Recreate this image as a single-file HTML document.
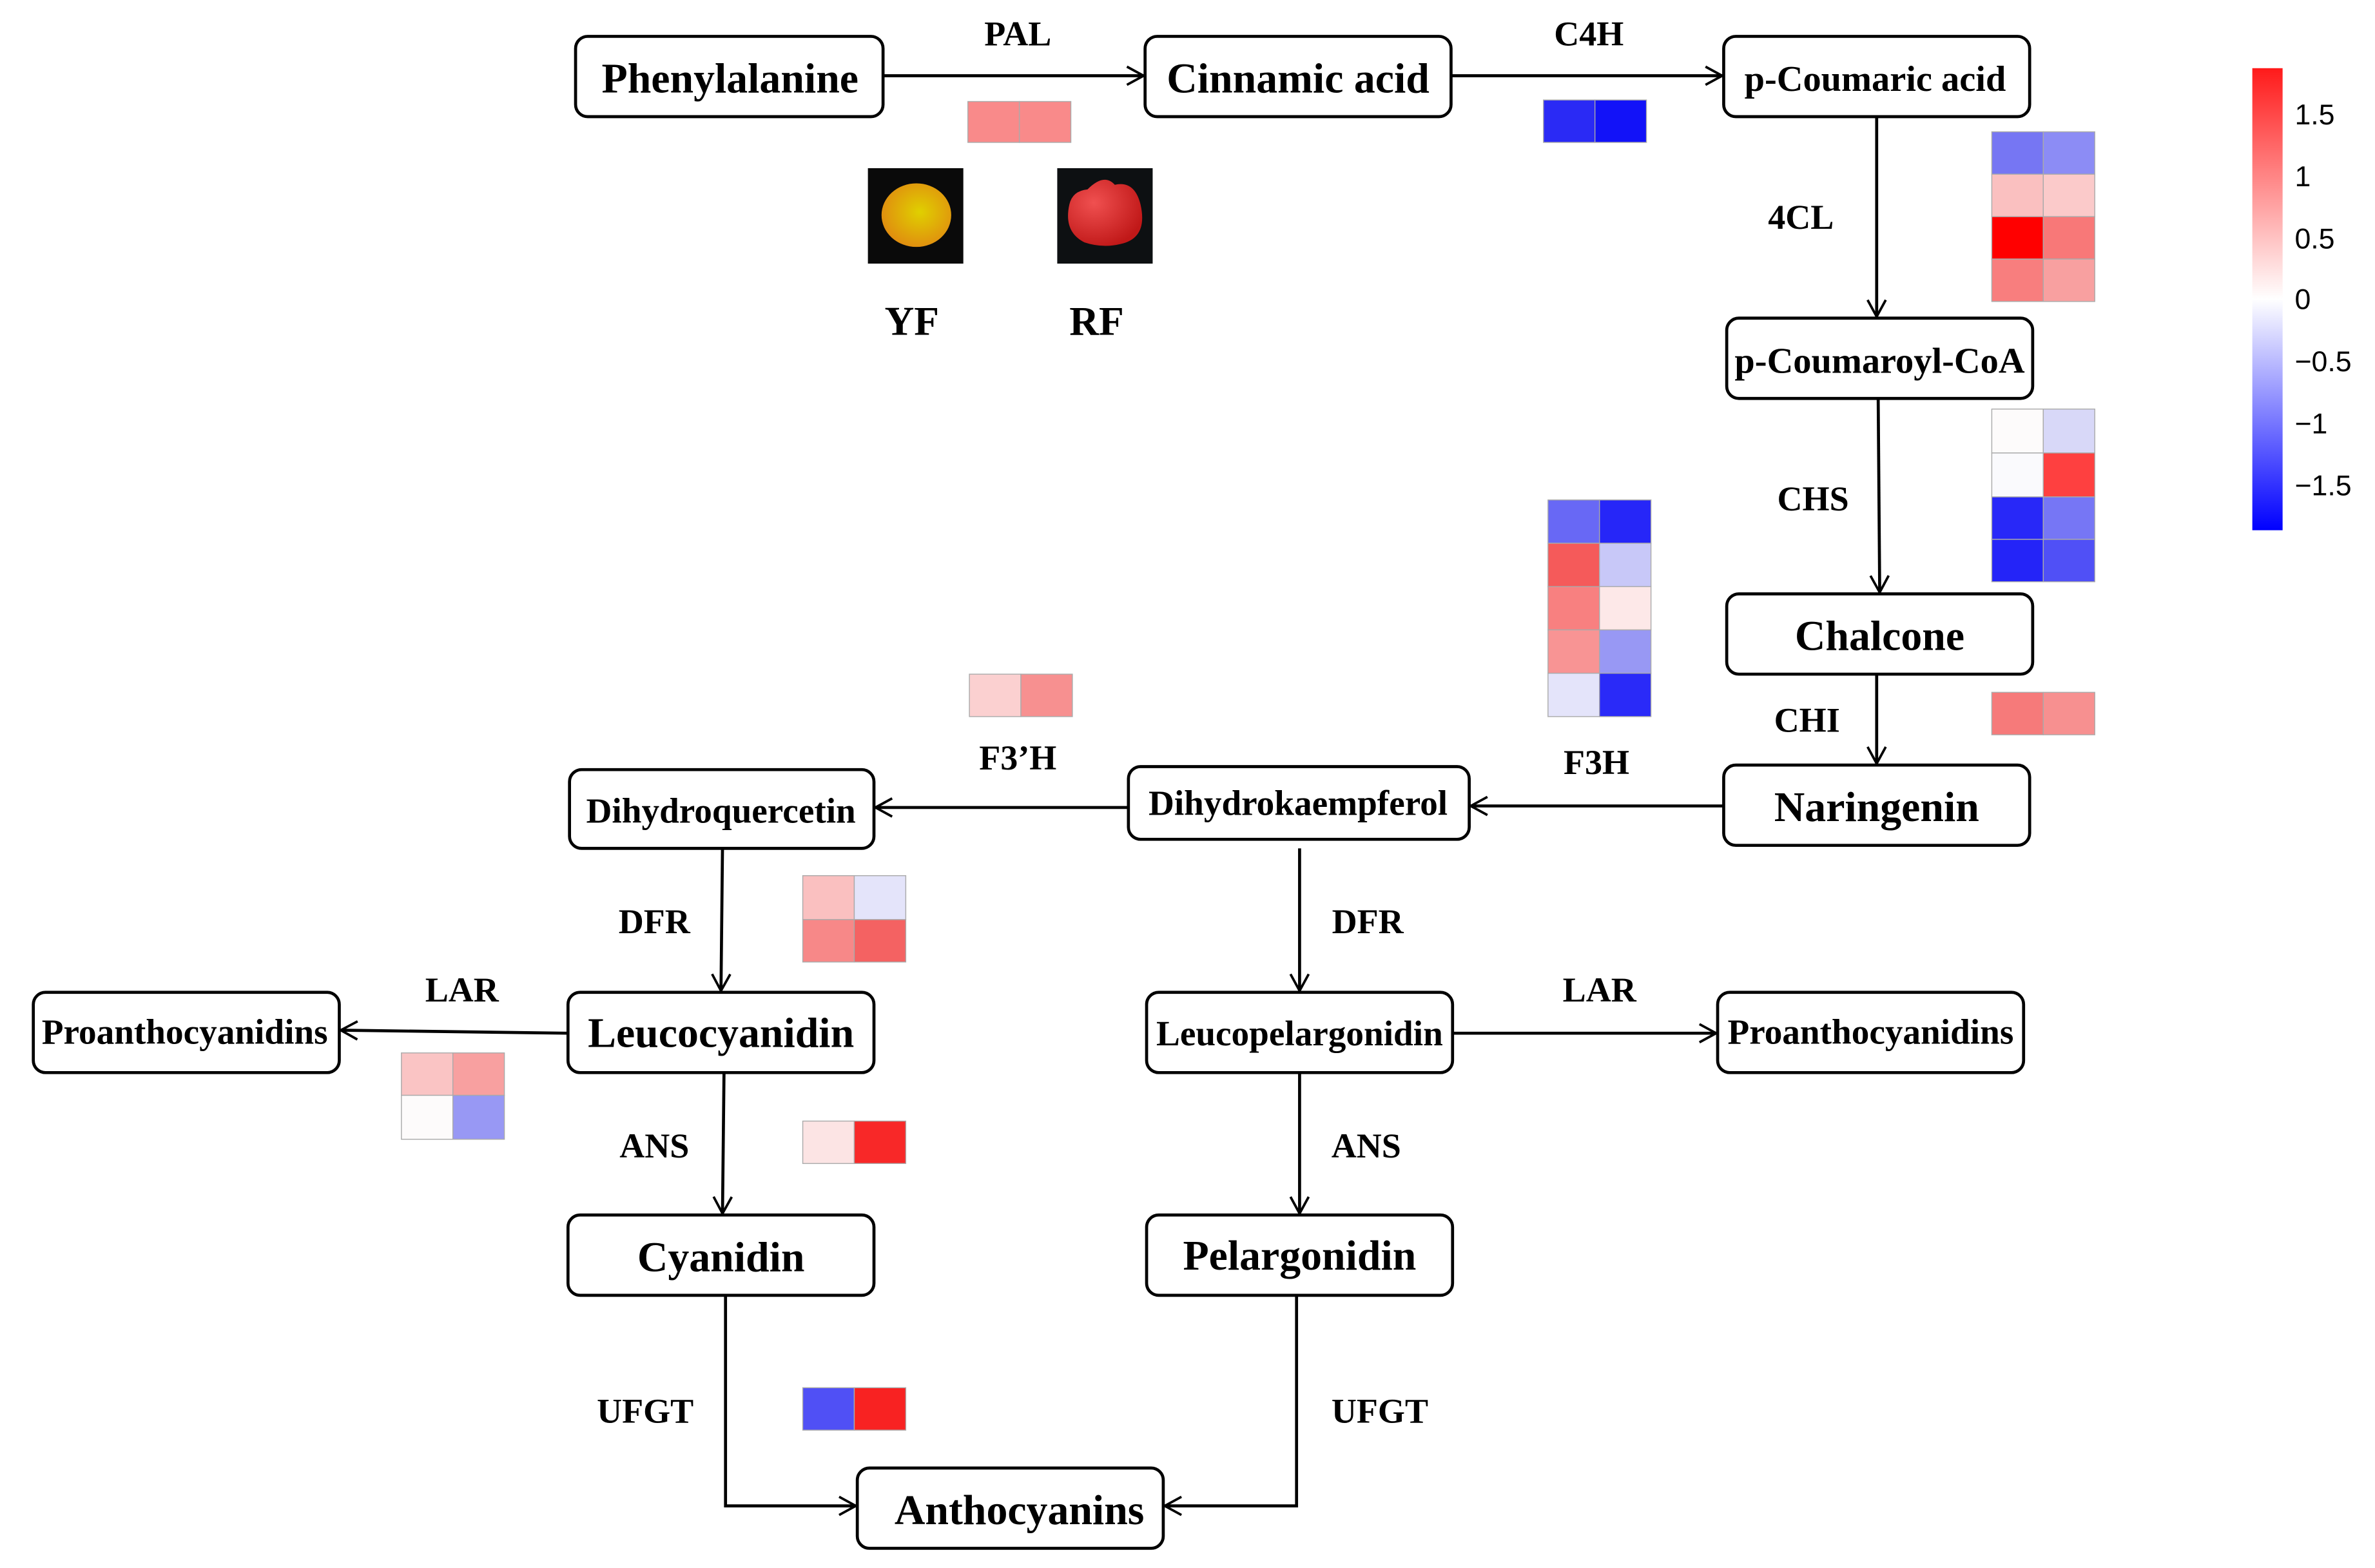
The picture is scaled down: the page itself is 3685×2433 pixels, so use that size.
<!DOCTYPE html>
<html><head><meta charset="utf-8"><style>
html,body{margin:0;padding:0;background:#fff}
svg{display:block}
text{font-family:"Liberation Serif",serif;font-weight:bold;fill:#000}
</style></head><body>
<svg width="3685" height="2433" viewBox="0 0 1568 1035" preserveAspectRatio="none" xmlns="http://www.w3.org/2000/svg">
<defs>
<marker id="a" markerWidth="14" markerHeight="14" refX="12" refY="7" orient="auto" markerUnits="userSpaceOnUse">
<path d="M1,1 L12,7 L1,13" fill="none" stroke="#000" stroke-width="1.6"/></marker>
<linearGradient id="cb" x1="0" y1="0" x2="0" y2="1">
<stop offset="0" stop-color="#ff1a1a"/><stop offset="0.5" stop-color="#ffffff"/><stop offset="1" stop-color="#0000ff"/></linearGradient>
<radialGradient id="yf" cx="0.55" cy="0.45" r="0.6"><stop offset="0" stop-color="#e0d000"/><stop offset="1" stop-color="#e08a10"/></radialGradient>
<radialGradient id="rf" cx="0.35" cy="0.35" r="0.7"><stop offset="0" stop-color="#f05050"/><stop offset="1" stop-color="#c01818"/></radialGradient>
</defs>
<rect width="1568" height="1035" fill="#fff"/>
<g fill="#fff" stroke="#000" stroke-width="2">
<rect x="380" y="24" width="203" height="53" rx="8"/>
<rect x="756" y="24" width="202" height="53" rx="8"/>
<rect x="1138" y="24" width="202" height="53" rx="8"/>
<rect x="1140" y="210" width="202" height="53" rx="8"/>
<rect x="1140" y="392" width="202" height="53" rx="8"/>
<rect x="1138" y="505" width="202" height="53" rx="8"/>
<rect x="745" y="506" width="225" height="48" rx="8"/>
<rect x="376" y="508" width="201" height="52" rx="8"/>
<rect x="375" y="655" width="202" height="53" rx="8"/>
<rect x="757" y="655" width="202" height="53" rx="8"/>
<rect x="22" y="655" width="202" height="53" rx="8"/>
<rect x="1134" y="655" width="202" height="53" rx="8"/>
<rect x="375" y="802" width="202" height="53" rx="8"/>
<rect x="757" y="802" width="202" height="53" rx="8"/>
<rect x="566" y="969" width="202" height="53" rx="8"/>
</g>
<g stroke="#000" stroke-width="2" fill="none" marker-end="url(#a)">
<line x1="583" y1="50" x2="755" y2="50"/>
<line x1="958" y1="50" x2="1137" y2="50"/>
<line x1="1239" y1="77" x2="1239" y2="209"/>
<line x1="1240" y1="263" x2="1241" y2="391"/>
<line x1="1239" y1="445" x2="1239" y2="504"/>
<line x1="1138" y1="532" x2="971" y2="532"/>
<line x1="745" y1="533" x2="578" y2="533"/>
<line x1="477" y1="560" x2="476" y2="654"/>
<line x1="858" y1="560" x2="858" y2="654"/>
<line x1="375" y1="682" x2="225" y2="680"/>
<line x1="959" y1="682" x2="1133" y2="682"/>
<line x1="478" y1="708" x2="477" y2="801"/>
<line x1="858" y1="708" x2="858" y2="801"/>
<polyline points="479,855 479,994 565,994"/>
<polyline points="856,855 856,994 769,994"/>
</g>
<g font-size="28" text-anchor="middle">
<text x="482" y="61">Phenylalanine</text>
<text x="857" y="61">Cinnamic acid</text>
<text x="1238" y="60" font-size="24">p-Coumaric acid</text>
<text x="1241" y="246" font-size="24">p-Coumaroyl-CoA</text>
<text x="1241" y="429">Chalcone</text>
<text x="1239" y="542">Naringenin</text>
<text x="857" y="538" font-size="23.5">Dihydrokaempferol</text>
<text x="476" y="543" font-size="23.5">Dihydroquercetin</text>
<text x="476" y="691">Leucocyanidin</text>
<text x="858" y="690" font-size="23.5">Leucopelargonidin</text>
<text x="122" y="689" font-size="23.5">Proanthocyanidins</text>
<text x="1235" y="689" font-size="23.5">Proanthocyanidins</text>
<text x="476" y="839">Cyanidin</text>
<text x="858" y="838">Pelargonidin</text>
<text x="673" y="1006">Anthocyanins</text>
</g>
<g font-size="23" text-anchor="middle">
<text x="672" y="30">PAL</text>
<text x="1049" y="30">C4H</text>
<text x="1189" y="151">4CL</text>
<text x="1197" y="337">CHS</text>
<text x="1193" y="483">CHI</text>
<text x="1054" y="511">F3H</text>
<text x="672" y="508">F3’H</text>
<text x="432" y="616">DFR</text>
<text x="903" y="616">DFR</text>
<text x="305" y="661">LAR</text>
<text x="1056" y="661">LAR</text>
<text x="432" y="764">ANS</text>
<text x="902" y="764">ANS</text>
<text x="426" y="939">UFGT</text>
<text x="911" y="939">UFGT</text>
<text x="602" y="221" font-size="27">YF</text>
<text x="724" y="221" font-size="27">RF</text>
</g>
<g stroke="#aaa" stroke-width="0.6">
<rect x="639" y="67" width="34" height="27" fill="#f98a8a"/><rect x="673" y="67" width="34" height="27" fill="#f98a8a"/>
<rect x="1019" y="66" width="34" height="28" fill="#2a2af5"/><rect x="1053" y="66" width="34" height="28" fill="#1212f8"/>
<rect x="1315" y="87" width="34" height="28" fill="#7676f3"/><rect x="1349" y="87" width="34" height="28" fill="#8c8cf5"/>
<rect x="1315" y="115" width="34" height="28" fill="#fac0c0"/><rect x="1349" y="115" width="34" height="28" fill="#fbcaca"/>
<rect x="1315" y="143" width="34" height="28" fill="#ff0000"/><rect x="1349" y="143" width="34" height="28" fill="#f87878"/>
<rect x="1315" y="171" width="34" height="28" fill="#f87e7e"/><rect x="1349" y="171" width="34" height="28" fill="#f8a0a0"/>
<rect x="1315" y="270" width="34" height="29" fill="#fdfbfb"/><rect x="1349" y="270" width="34" height="29" fill="#d8d8f8"/>
<rect x="1315" y="299" width="34" height="29" fill="#fafafd"/><rect x="1349" y="299" width="34" height="29" fill="#fe4040"/>
<rect x="1315" y="328" width="34" height="28" fill="#2828f8"/><rect x="1349" y="328" width="34" height="28" fill="#7676f5"/>
<rect x="1315" y="356" width="34" height="28" fill="#2424f8"/><rect x="1349" y="356" width="34" height="28" fill="#5050f6"/>
<rect x="1022" y="330" width="34" height="28.6" fill="#6868f5"/><rect x="1056" y="330" width="34" height="28.6" fill="#2626f8"/>
<rect x="1022" y="358.6" width="34" height="28.6" fill="#f55a5a"/><rect x="1056" y="358.6" width="34" height="28.6" fill="#c8c8f8"/>
<rect x="1022" y="387.2" width="34" height="28.6" fill="#f88080"/><rect x="1056" y="387.2" width="34" height="28.6" fill="#fde8e8"/>
<rect x="1022" y="415.8" width="34" height="28.6" fill="#f89494"/><rect x="1056" y="415.8" width="34" height="28.6" fill="#9898f4"/>
<rect x="1022" y="444.4" width="34" height="28.6" fill="#e4e4fa"/><rect x="1056" y="444.4" width="34" height="28.6" fill="#2a2af8"/>
<rect x="1315" y="457" width="34" height="28" fill="#f67a7a"/><rect x="1349" y="457" width="34" height="28" fill="#f79090"/>
<rect x="640" y="445" width="34" height="28" fill="#fbd0d0"/><rect x="674" y="445" width="34" height="28" fill="#f79090"/>
<rect x="530" y="578" width="34" height="29" fill="#fac0c0"/><rect x="564" y="578" width="34" height="29" fill="#e4e4fa"/>
<rect x="530" y="607" width="34" height="28" fill="#f78888"/><rect x="564" y="607" width="34" height="28" fill="#f46262"/>
<rect x="265" y="695" width="34" height="28" fill="#fac4c4"/><rect x="299" y="695" width="34" height="28" fill="#f8a0a0"/>
<rect x="265" y="723" width="34" height="29" fill="#fdfbfb"/><rect x="299" y="723" width="34" height="29" fill="#9898f4"/>
<rect x="530" y="740" width="34" height="28" fill="#fce4e4"/><rect x="564" y="740" width="34" height="28" fill="#f82828"/>
<rect x="530" y="916" width="34" height="28" fill="#5050f5"/><rect x="564" y="916" width="34" height="28" fill="#f82222"/>
</g>
<rect x="1487" y="45" width="20" height="305" fill="url(#cb)"/>
<g font-size="19">
<text x="1515" y="82" style="font-family:'Liberation Sans',sans-serif;font-weight:normal">1.5</text>
<text x="1515" y="123" style="font-family:'Liberation Sans',sans-serif;font-weight:normal">1</text>
<text x="1515" y="164" style="font-family:'Liberation Sans',sans-serif;font-weight:normal">0.5</text>
<text x="1515" y="204" style="font-family:'Liberation Sans',sans-serif;font-weight:normal">0</text>
<text x="1515" y="245" style="font-family:'Liberation Sans',sans-serif;font-weight:normal">−0.5</text>
<text x="1515" y="286" style="font-family:'Liberation Sans',sans-serif;font-weight:normal">−1</text>
<text x="1515" y="327" style="font-family:'Liberation Sans',sans-serif;font-weight:normal">−1.5</text>
</g>
<rect x="573" y="111" width="63" height="63" fill="#0a0a0a"/>
<ellipse cx="605" cy="142" rx="23" ry="21" fill="url(#yf)"/>
<rect x="698" y="111" width="63" height="63" fill="#0d1012"/>
<path d="M718,125 Q729,114 736,122 Q749,119 753,135 Q758,157 740,161 Q728,164 716,160 Q702,153 706,135 Q708,126 718,125 Z" fill="url(#rf)"/>
</svg>
</body></html>
